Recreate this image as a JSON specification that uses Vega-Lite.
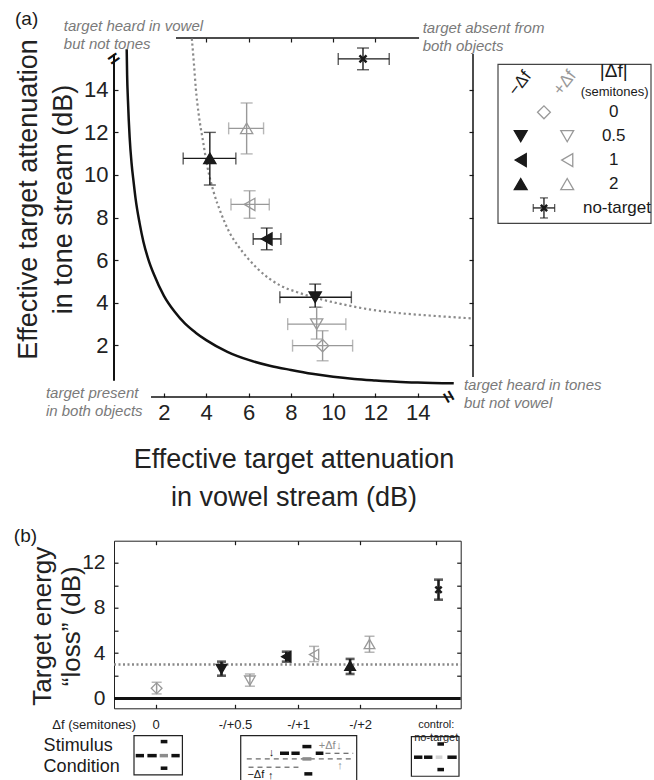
{
  "$schema": "https://vega.github.io/schema/vega-lite/v6.json",
  "padding": {"left": 13, "top": 10, "right": 5, "bottom": 0},
  "config": {
    "font": "Liberation Sans",
    "view": {"stroke": null},
    "axis": {"grid": false, "domain": false, "labelFlush": false, "labelOverlap": false, "labelColor": "#222222", "titleColor": "#222222", "tickColor": "#1a1a1a", "tickWidth": 1.2, "titleFontWeight": "normal", "labelFont": "Liberation Sans", "titleFont": "Liberation Sans"},
    "title": {"fontWeight": "normal", "font": "Liberation Sans", "color": "#1a1a1a"}
  },
  "datasets": {
    "one": [{"k": 1}],
    "top": [
      {"cond": "2", "sign": "neg", "x": 4.17, "xlo": 2.91, "xhi": 5.40, "y": 10.78, "ylo": 9.53, "yhi": 12.0},
      {"cond": "2", "sign": "pos", "x": 5.91, "xlo": 5.06, "xhi": 6.71, "y": 12.19, "ylo": 10.99, "yhi": 13.38},
      {"cond": "1", "sign": "pos", "x": 6.05, "xlo": 5.17, "xhi": 6.98, "y": 8.62, "ylo": 7.97, "yhi": 9.26},
      {"cond": "1", "sign": "neg", "x": 6.86, "xlo": 6.22, "xhi": 7.53, "y": 7.0, "ylo": 6.49, "yhi": 7.51},
      {"cond": "0.5", "sign": "neg", "x": 9.15, "xlo": 7.48, "xhi": 10.86, "y": 4.26, "ylo": 3.79, "yhi": 4.88},
      {"cond": "0.5", "sign": "pos", "x": 9.22, "xlo": 7.85, "xhi": 10.6, "y": 3.0, "ylo": 2.3, "yhi": 3.79},
      {"cond": "0", "sign": "zero", "x": 9.5, "xlo": 8.08, "xhi": 10.92, "y": 1.99, "ylo": 1.28, "yhi": 2.69},
      {"cond": "none", "sign": "none", "x": 11.41, "xlo": 10.24, "xhi": 12.65, "y": 15.45, "ylo": 14.94, "yhi": 15.96}
    ],
    "bottom": [
      {"cond": "0", "sign": "zero", "x": 1.23, "y": 0.9, "ylo": 0.4, "yhi": 1.43},
      {"cond": "0.5", "sign": "neg", "x": 3.1, "y": 2.6, "ylo": 2.01, "yhi": 3.25},
      {"cond": "0.5", "sign": "pos", "x": 3.92, "y": 1.57, "ylo": 1.08, "yhi": 2.16},
      {"cond": "1", "sign": "neg", "x": 4.97, "y": 3.69, "ylo": 3.25, "yhi": 4.13},
      {"cond": "1", "sign": "pos", "x": 5.77, "y": 3.87, "ylo": 3.25, "yhi": 4.6},
      {"cond": "2", "sign": "neg", "x": 6.81, "y": 2.9, "ylo": 2.16, "yhi": 3.49},
      {"cond": "2", "sign": "pos", "x": 7.37, "y": 4.81, "ylo": 4.08, "yhi": 5.49},
      {"cond": "none", "sign": "none", "x": 9.36, "y": 9.6, "ylo": 8.72, "yhi": 10.49}
    ],
    "solid": [
      {"x": 0.24, "y": 15.9}, {"x": 0.26, "y": 14.7}, {"x": 0.3, "y": 13.5}, {"x": 0.38, "y": 11.76}, {"x": 0.47, "y": 10.56},
      {"x": 0.57, "y": 9.64}, {"x": 0.66, "y": 8.89}, {"x": 0.85, "y": 7.74}, {"x": 1.03, "y": 6.87}, {"x": 1.27, "y": 6.02},
      {"x": 1.52, "y": 5.35}, {"x": 2.0, "y": 4.33}, {"x": 2.5, "y": 3.59}, {"x": 3.0, "y": 3.02}, {"x": 3.5, "y": 2.6},
      {"x": 4.0, "y": 2.25}, {"x": 5.0, "y": 1.7}, {"x": 6.0, "y": 1.32}, {"x": 7.0, "y": 1.05}, {"x": 8.0, "y": 0.85},
      {"x": 9.0, "y": 0.67}, {"x": 10.0, "y": 0.53}, {"x": 11.0, "y": 0.43}, {"x": 12.0, "y": 0.36}, {"x": 13.0, "y": 0.3},
      {"x": 14.0, "y": 0.26}, {"x": 15.7, "y": 0.22}
    ],
    "dotted": [
      {"x": 3.32, "y": 16.4}, {"x": 3.42, "y": 15.2}, {"x": 3.51, "y": 14.04}, {"x": 3.65, "y": 12.8}, {"x": 3.83, "y": 11.69},
      {"x": 4.06, "y": 10.36}, {"x": 4.35, "y": 9.2}, {"x": 4.7, "y": 8.2}, {"x": 5.1, "y": 7.3}, {"x": 5.5, "y": 6.68},
      {"x": 6.0, "y": 6.05}, {"x": 6.43, "y": 5.6}, {"x": 7.0, "y": 5.12}, {"x": 7.53, "y": 4.8}, {"x": 8.3, "y": 4.5},
      {"x": 9.11, "y": 4.25}, {"x": 10.5, "y": 3.92}, {"x": 11.79, "y": 3.68}, {"x": 13.0, "y": 3.53}, {"x": 14.6, "y": 3.4},
      {"x": 16.55, "y": 3.27}
    ],
    "legpts": [
      {"col": 1, "row": 2, "cond": "0.5", "sign": "neg"}, {"col": 2, "row": 2, "cond": "0.5", "sign": "pos"},
      {"col": 1, "row": 3, "cond": "1", "sign": "neg"}, {"col": 2, "row": 3, "cond": "1", "sign": "pos"},
      {"col": 1, "row": 4, "cond": "2", "sign": "neg"}, {"col": 2, "row": 4, "cond": "2", "sign": "pos"},
      {"col": 1.5, "row": 1, "cond": "0", "sign": "zero"}
    ],
    "legtext": [
      {"col": 3, "row": 1, "label": "0"}, {"col": 3, "row": 2, "label": "0.5"}, {"col": 3, "row": 3, "label": "1"},
      {"col": 3, "row": 4, "label": "2"}, {"col": 3.07, "row": 5, "label": "no-target"}
    ],
    "legbar": [{"col": 1.5, "row": 5, "rlo": 4.58, "rhi": 5.42, "clo": 1.27, "chi": 1.73}],
    "stimbox": [
      {"t": 0.577, "t2": 1.973, "f": -3.28, "f2": -6.75},
      {"t": 3.655, "t2": 7.0, "f": -3.28, "f2": -7.9},
      {"t": 8.578, "t2": 9.951, "f": -3.37, "f2": -6.87}
    ],
    "stimtone": [
      {"t": 0.626, "t2": 0.865, "f": -5.05, "part": "vowel"},
      {"t": 0.963, "t2": 1.232, "f": -5.05, "part": "vowel"},
      {"t": 1.656, "t2": 1.895, "f": -5.05, "part": "vowel"},
      {"t": 1.347, "t2": 1.54, "f": -3.81, "part": "vowel"},
      {"t": 1.347, "t2": 1.54, "f": -6.16, "part": "vowel"},
      {"t": 1.318, "t2": 1.558, "f": -5.05, "part": "target"},
      {"t": 8.653, "t2": 8.895, "f": -5.19, "part": "vowel"},
      {"t": 8.942, "t2": 9.184, "f": -5.19, "part": "vowel"},
      {"t": 9.616, "t2": 9.885, "f": -5.19, "part": "vowel"},
      {"t": 9.328, "t2": 9.518, "f": -4.02, "part": "vowel"},
      {"t": 9.328, "t2": 9.518, "f": -6.28, "part": "vowel"},
      {"t": 9.279, "t2": 9.472, "f": -5.19, "part": "absent"},
      {"t": 4.788, "t2": 5.048, "f": -4.84, "part": "vowel"},
      {"t": 5.117, "t2": 5.356, "f": -4.84, "part": "vowel"},
      {"t": 5.434, "t2": 5.694, "f": -4.25, "part": "vowel"},
      {"t": 5.818, "t2": 6.04, "f": -4.84, "part": "vowel"},
      {"t": 5.49, "t2": 5.72, "f": -6.66, "part": "vowel"},
      {"t": 5.434, "t2": 5.694, "f": -5.34, "part": "target"}
    ],
    "stimline": [
      {"t": 3.83, "t2": 6.9, "f": -5.34},
      {"t": 3.88, "t2": 5.32, "f": -6.07},
      {"t": 6.1, "t2": 6.9, "f": -4.84}
    ],
    "stimtext": [
      {"t": 6.15, "f": -4.22, "label": "+Δf", "part": "target"},
      {"t": 6.49, "f": -4.2, "label": "↓", "part": "target"},
      {"t": 6.52, "f": -6.0, "label": "↑", "part": "target"},
      {"t": 4.09, "f": -6.8, "label": "−Δf", "part": "vowel"},
      {"t": 4.54, "f": -4.79, "label": "↓", "part": "vowel"},
      {"t": 4.52, "f": -6.85, "label": "↑", "part": "vowel"}
    ]
  },
  "bounds": "flush",
  "spacing": 502.7,
  "vconcat": [
    {
      "bounds": "flush",
      "spacing": 24.7,
      "hconcat": [
        {
          "width": 359,
          "height": 359,
          "resolve": {"axis": {"x": "independent", "y": "independent"}},
          "layer": [
            {
              "data": {"name": "one"},
              "mark": {"type": "rule", "color": "#111111", "strokeWidth": 2},
              "encoding": {
                "x": {"datum": -0.36, "type": "quantitative", "scale": {"domain": [-0.36, 16.61], "nice": false, "zero": false},
                  "axis": {"orient": "bottom", "values": [2, 4, 6, 8, 10, 12, 14], "tickSize": -4, "labelPadding": 9, "labelFontSize": 22,
                    "title": ["Effective target attenuation", "in vowel stream (dB)"], "titleFontSize": 27, "titleLineHeight": 38, "titleY": 62, "titleBaseline": "middle"}},
                "y": {"datum": 0.34, "type": "quantitative", "scale": {"domain": [-0.42, 16.43], "nice": false, "zero": false},
                  "axis": {"orient": "left", "values": [2, 4, 6, 8, 10, 12, 14], "tickSize": -4, "labelPadding": 10, "labelFontSize": 22,
                    "title": ["Effective target attenuation", "in tone stream (dB)"], "titleFontSize": 27, "titleLineHeight": 35, "titleX": -86, "titleY": 161, "titleAngle": -90, "titleBaseline": "middle"}},
                "y2": {"datum": 15.68}
              }
            },
            {
              "data": {"name": "one"},
              "mark": {"type": "rule", "color": "#111111", "strokeWidth": 1.5},
              "encoding": {
                "x": {"datum": 1.39, "type": "quantitative", "scale": {"domain": [-0.36, 16.61], "nice": false, "zero": false},
                  "axis": {"orient": "top", "values": [4, 6, 8, 10, 12], "tickSize": -4, "labels": false, "title": null}},
                "x2": {"datum": 15.67},
                "y": {"datum": -0.42, "type": "quantitative", "scale": {"domain": [-0.42, 16.43], "nice": false, "zero": false},
                  "axis": {"orient": "right", "values": [2, 4, 6, 8, 10, 12, 14], "tickSize": -4, "labels": false, "title": null}}
              }
            },
            {
              "data": {"name": "one"},
              "mark": {"type": "rule", "color": "#111111", "strokeWidth": 1.5},
              "encoding": {
                "x": {"datum": 2.57, "type": "quantitative", "scale": {"domain": [-0.36, 16.61], "nice": false, "zero": false}, "axis": null},
                "x2": {"datum": 14.06},
                "y": {"datum": 16.43, "type": "quantitative", "scale": {"domain": [-0.42, 16.43], "nice": false, "zero": false}, "axis": null}
              }
            },
            {
              "data": {"name": "one"},
              "mark": {"type": "rule", "color": "#111111", "strokeWidth": 1.5},
              "encoding": {
                "x": {"datum": 16.61, "type": "quantitative", "scale": {"domain": [-0.36, 16.61], "nice": false, "zero": false}, "axis": null},
                "y": {"datum": 0.52, "type": "quantitative", "scale": {"domain": [-0.42, 16.43], "nice": false, "zero": false}, "axis": null},
                "y2": {"datum": 15.68}
              }
            },
            {
              "data": {"name": "solid"},
              "mark": {"type": "line", "color": "#111111", "strokeWidth": 2.5, "interpolate": "monotone"},
              "encoding": {
                "x": {"field": "x", "type": "quantitative", "scale": {"domain": [-0.36, 16.61], "nice": false, "zero": false}, "axis": null},
                "y": {"field": "y", "type": "quantitative", "scale": {"domain": [-0.42, 16.43], "nice": false, "zero": false}, "axis": null}
              }
            },
            {
              "data": {"name": "dotted"},
              "mark": {"type": "line", "color": "#8a8a8a", "strokeWidth": 2.2, "strokeDash": [2.2, 2.8], "interpolate": "monotone"},
              "encoding": {
                "x": {"field": "x", "type": "quantitative", "scale": {"domain": [-0.36, 16.61], "nice": false, "zero": false}, "axis": null},
                "y": {"field": "y", "type": "quantitative", "scale": {"domain": [-0.42, 16.43], "nice": false, "zero": false}, "axis": null}
              }
            },
            {
              "data": {"name": "top"},
              "mark": {"type": "errorbar", "ticks": true, "size": 12, "thickness": 1.4, "orient": "vertical"},
              "encoding": {
                "x": {"field": "x", "type": "quantitative", "scale": {"domain": [-0.36, 16.61], "nice": false, "zero": false}, "axis": null},
                "y": {"field": "ylo", "type": "quantitative", "scale": {"domain": [-0.42, 16.43], "nice": false, "zero": false}, "axis": null},
                "y2": {"field": "yhi"},
                "color": {"field": "sign", "type": "nominal", "scale": {"domain": ["neg", "pos", "zero", "none"], "range": ["#1a1a1a", "#999999", "#999999", "#1a1a1a"]}, "legend": null}
              }
            },
            {
              "data": {"name": "top"},
              "mark": {"type": "errorbar", "ticks": true, "size": 12, "thickness": 1.4, "orient": "horizontal"},
              "encoding": {
                "y": {"field": "y", "type": "quantitative", "scale": {"domain": [-0.42, 16.43], "nice": false, "zero": false}, "axis": null},
                "x": {"field": "xlo", "type": "quantitative", "scale": {"domain": [-0.36, 16.61], "nice": false, "zero": false}, "axis": null},
                "x2": {"field": "xhi"},
                "color": {"field": "sign", "type": "nominal", "scale": {"domain": ["neg", "pos", "zero", "none"], "range": ["#1a1a1a", "#999999", "#999999", "#1a1a1a"]}, "legend": null}
              }
            },
            {
              "data": {"name": "top"},
              "transform": [{"filter": "datum.sign !== 'none'"}],
              "mark": {"type": "point", "size": 150, "opacity": 1, "strokeWidth": 1.3},
              "encoding": {
                "x": {"field": "x", "type": "quantitative", "scale": {"domain": [-0.36, 16.61], "nice": false, "zero": false}, "axis": null},
                "y": {"field": "y", "type": "quantitative", "scale": {"domain": [-0.42, 16.43], "nice": false, "zero": false}, "axis": null},
                "shape": {"field": "cond", "type": "nominal", "scale": {"domain": ["0", "0.5", "1", "2"], "range": ["diamond", "triangle-down", "triangle-left", "triangle-up"]}, "legend": null},
                "fill": {"field": "sign", "type": "nominal", "scale": {"domain": ["neg", "pos", "zero"], "range": ["#1a1a1a", "transparent", "transparent"]}, "legend": null},
                "stroke": {"field": "sign", "type": "nominal", "scale": {"domain": ["neg", "pos", "zero"], "range": ["#1a1a1a", "#999999", "#999999"]}, "legend": null}
              }
            },
            {
              "data": {"name": "top"},
              "transform": [{"filter": "datum.sign === 'none'"}],
              "mark": {"type": "point", "shape": "M-1,-1L1,1M-1,1L1,-1", "size": 50, "opacity": 1, "strokeWidth": 2.5, "color": "#1a1a1a"},
              "encoding": {
                "x": {"field": "x", "type": "quantitative", "scale": {"domain": [-0.36, 16.61], "nice": false, "zero": false}, "axis": null},
                "y": {"field": "y", "type": "quantitative", "scale": {"domain": [-0.42, 16.43], "nice": false, "zero": false}, "axis": null}
              }
            },
            {
              "data": {"name": "one"},
              "mark": {"type": "text", "text": "(a)", "align": "left", "baseline": "middle", "fontSize": 19, "color": "#1a1a1a"},
              "encoding": {
                "x": {"datum": -5.04, "type": "quantitative", "scale": {"domain": [-0.36, 16.61], "nice": false, "zero": false}, "axis": null},
                "y": {"datum": 17.32, "type": "quantitative", "scale": {"domain": [-0.42, 16.43], "nice": false, "zero": false}, "axis": null}
              }
            },
            {
              "data": {"name": "one"},
              "mark": {"type": "text", "text": ["target heard in vowel", "but not tones"], "align": "left", "baseline": "middle", "fontSize": 15, "fontStyle": "italic", "color": "#7a7a7a", "lineHeight": 18},
              "encoding": {
                "x": {"datum": -2.73, "type": "quantitative", "scale": {"domain": [-0.36, 16.61], "nice": false, "zero": false}, "axis": null},
                "y": {"datum": 17.0, "type": "quantitative", "scale": {"domain": [-0.42, 16.43], "nice": false, "zero": false}, "axis": null}
              }
            },
            {
              "data": {"name": "one"},
              "mark": {"type": "text", "text": ["target absent from", "both objects"], "align": "left", "baseline": "middle", "fontSize": 15, "fontStyle": "italic", "color": "#7a7a7a", "lineHeight": 18},
              "encoding": {
                "x": {"datum": 14.23, "type": "quantitative", "scale": {"domain": [-0.36, 16.61], "nice": false, "zero": false}, "axis": null},
                "y": {"datum": 16.9, "type": "quantitative", "scale": {"domain": [-0.42, 16.43], "nice": false, "zero": false}, "axis": null}
              }
            },
            {
              "data": {"name": "one"},
              "mark": {"type": "text", "text": ["target present", "in both objects"], "align": "left", "baseline": "middle", "fontSize": 15, "fontStyle": "italic", "color": "#7a7a7a", "lineHeight": 18},
              "encoding": {
                "x": {"datum": -3.58, "type": "quantitative", "scale": {"domain": [-0.36, 16.61], "nice": false, "zero": false}, "axis": null},
                "y": {"datum": -0.23, "type": "quantitative", "scale": {"domain": [-0.42, 16.43], "nice": false, "zero": false}, "axis": null}
              }
            },
            {
              "data": {"name": "one"},
              "mark": {"type": "text", "text": ["target heard in tones", "but not vowel"], "align": "left", "baseline": "middle", "fontSize": 15, "fontStyle": "italic", "color": "#7a7a7a", "lineHeight": 18},
              "encoding": {
                "x": {"datum": 16.18, "type": "quantitative", "scale": {"domain": [-0.36, 16.61], "nice": false, "zero": false}, "axis": null},
                "y": {"datum": 0.12, "type": "quantitative", "scale": {"domain": [-0.42, 16.43], "nice": false, "zero": false}, "axis": null}
              }
            },
            {
              "data": {"name": "one"},
              "mark": {"type": "text", "text": "=", "angle": -35, "fontSize": 20, "fontWeight": "bold", "color": "#111111", "baseline": "middle"},
              "encoding": {
                "x": {"datum": -0.36, "type": "quantitative", "scale": {"domain": [-0.36, 16.61], "nice": false, "zero": false}, "axis": null},
                "y": {"datum": 15.45, "type": "quantitative", "scale": {"domain": [-0.42, 16.43], "nice": false, "zero": false}, "axis": null}
              }
            },
            {
              "data": {"name": "one"},
              "mark": {"type": "text", "text": "=", "angle": 60, "fontSize": 20, "fontWeight": "bold", "color": "#111111", "baseline": "middle"},
              "encoding": {
                "x": {"datum": 15.43, "type": "quantitative", "scale": {"domain": [-0.36, 16.61], "nice": false, "zero": false}, "axis": null},
                "y": {"datum": -0.42, "type": "quantitative", "scale": {"domain": [-0.42, 16.43], "nice": false, "zero": false}, "axis": null}
              }
            }
          ]
        },
        {
          "bounds": "flush",
          "spacing": 25,
          "vconcat": [
            {"width": 153, "height": 1, "data": {"name": "one"}, "mark": {"type": "text", "text": " "}, "encoding": {}},
            {
              "width": 153,
              "height": 159,
              "view": {"stroke": "#444444", "strokeWidth": 1.2},
              "layer": [
                {
                  "data": {"name": "legpts"},
                  "mark": {"type": "point", "size": 165, "opacity": 1, "strokeWidth": 1.3},
                  "encoding": {
                    "x": {"field": "col", "type": "quantitative", "scale": {"domain": [0.505, 3.796], "nice": false, "zero": false}, "axis": null},
                    "y": {"field": "row", "type": "quantitative", "scale": {"domain": [-1.02, 5.63], "nice": false, "zero": false, "reverse": true}, "axis": null},
                    "shape": {"field": "cond", "type": "nominal", "scale": {"domain": ["0", "0.5", "1", "2"], "range": ["diamond", "triangle-down", "triangle-left", "triangle-up"]}, "legend": null},
                    "fill": {"field": "sign", "type": "nominal", "scale": {"domain": ["neg", "pos", "zero"], "range": ["#1a1a1a", "transparent", "transparent"]}, "legend": null},
                    "stroke": {"field": "sign", "type": "nominal", "scale": {"domain": ["neg", "pos", "zero"], "range": ["#1a1a1a", "#999999", "#999999"]}, "legend": null}
                  }
                },
                {
                  "data": {"name": "legtext"},
                  "mark": {"type": "text", "fontSize": 17, "color": "#1a1a1a", "baseline": "middle"},
                  "encoding": {
                    "x": {"field": "col", "type": "quantitative", "scale": {"domain": [0.505, 3.796], "nice": false, "zero": false}, "axis": null},
                    "y": {"field": "row", "type": "quantitative", "scale": {"domain": [-1.02, 5.63], "nice": false, "zero": false, "reverse": true}, "axis": null},
                    "text": {"field": "label"}
                  }
                },
                {
                  "data": {"name": "legbar"},
                  "mark": {"type": "errorbar", "ticks": true, "size": 8, "thickness": 1.3, "orient": "vertical", "color": "#1a1a1a"},
                  "encoding": {
                    "x": {"field": "col", "type": "quantitative", "scale": {"domain": [0.505, 3.796], "nice": false, "zero": false}, "axis": null},
                    "y": {"field": "rlo", "type": "quantitative", "scale": {"domain": [-1.02, 5.63], "nice": false, "zero": false, "reverse": true}, "axis": null},
                    "y2": {"field": "rhi"}
                  }
                },
                {
                  "data": {"name": "legbar"},
                  "mark": {"type": "errorbar", "ticks": true, "size": 8, "thickness": 1.3, "orient": "horizontal", "color": "#1a1a1a"},
                  "encoding": {
                    "y": {"field": "row", "type": "quantitative", "scale": {"domain": [-1.02, 5.63], "nice": false, "zero": false, "reverse": true}, "axis": null},
                    "x": {"field": "clo", "type": "quantitative", "scale": {"domain": [0.505, 3.796], "nice": false, "zero": false}, "axis": null},
                    "x2": {"field": "chi"}
                  }
                },
                {
                  "data": {"name": "legbar"},
                  "mark": {"type": "point", "shape": "M-1,-1L1,1M-1,1L1,-1", "size": 40, "opacity": 1, "strokeWidth": 2.5, "color": "#1a1a1a"},
                  "encoding": {
                    "x": {"field": "col", "type": "quantitative", "scale": {"domain": [0.505, 3.796], "nice": false, "zero": false}, "axis": null},
                    "y": {"field": "row", "type": "quantitative", "scale": {"domain": [-1.02, 5.63], "nice": false, "zero": false, "reverse": true}, "axis": null}
                  }
                },
                {
                  "data": {"name": "one"},
                  "mark": {"type": "text", "text": "|Δf|", "fontSize": 19, "color": "#1a1a1a", "baseline": "middle", "dy": -17},
                  "encoding": {
                    "x": {"datum": 3.0, "type": "quantitative", "scale": {"domain": [0.505, 3.796], "nice": false, "zero": false}, "axis": null},
                    "y": {"datum": 0, "type": "quantitative", "scale": {"domain": [-1.02, 5.63], "nice": false, "zero": false, "reverse": true}, "axis": null}
                  }
                },
                {
                  "data": {"name": "one"},
                  "mark": {"type": "text", "text": "(semitones)", "fontSize": 13, "color": "#1a1a1a", "baseline": "middle", "dy": 4},
                  "encoding": {
                    "x": {"datum": 3.02, "type": "quantitative", "scale": {"domain": [0.505, 3.796], "nice": false, "zero": false}, "axis": null},
                    "y": {"datum": 0, "type": "quantitative", "scale": {"domain": [-1.02, 5.63], "nice": false, "zero": false, "reverse": true}, "axis": null}
                  }
                },
                {
                  "data": {"name": "one"},
                  "mark": {"type": "text", "text": "−Δf", "fontSize": 17, "angle": -52, "color": "#1a1a1a", "baseline": "middle", "dy": -8},
                  "encoding": {
                    "x": {"datum": 1.12, "type": "quantitative", "scale": {"domain": [0.505, 3.796], "nice": false, "zero": false}, "axis": null},
                    "y": {"datum": 0, "type": "quantitative", "scale": {"domain": [-1.02, 5.63], "nice": false, "zero": false, "reverse": true}, "axis": null}
                  }
                },
                {
                  "data": {"name": "one"},
                  "mark": {"type": "text", "text": "+Δf", "fontSize": 17, "angle": -52, "color": "#999999", "baseline": "middle", "dy": -9},
                  "encoding": {
                    "x": {"datum": 2.1, "type": "quantitative", "scale": {"domain": [0.505, 3.796], "nice": false, "zero": false}, "axis": null},
                    "y": {"datum": 0, "type": "quantitative", "scale": {"domain": [-1.02, 5.63], "nice": false, "zero": false, "reverse": true}, "axis": null}
                  }
                }
              ]
            }
          ]
        }
      ]
    },
    {
      "width": 346.7,
      "height": 167.6,
      "view": {"stroke": "#222222", "strokeWidth": 1},
      "resolve": {"axis": {"x": "independent", "y": "independent"}},
      "layer": [
        {
          "data": {"name": "one"},
          "mark": {"type": "rule", "color": "#8a8a8a", "strokeWidth": 2.5, "strokeDash": [2, 2.5]},
          "encoding": {
            "x": {"datum": 0, "type": "quantitative", "scale": {"domain": [0, 10], "nice": false, "zero": false},
              "axis": {"orient": "top", "values": [1.2, 3.49, 5.31, 7.1, 9.28], "tickSize": -4, "labels": false, "title": null}},
            "x2": {"datum": 10},
            "y": {"datum": 3, "type": "quantitative", "scale": {"domain": [-0.87, 13.93], "nice": false, "zero": false},
              "axis": {"orient": "right", "values": [2, 4, 6, 8, 10, 12], "tickSize": -4, "labels": false, "title": null}}
          }
        },
        {
          "data": {"name": "one"},
          "mark": {"type": "rule", "color": "#111111", "strokeWidth": 3},
          "encoding": {
            "x": {"datum": 0, "type": "quantitative", "scale": {"domain": [0, 10], "nice": false, "zero": false}, "axis": null},
            "x2": {"datum": 10},
            "y": {"datum": 0, "type": "quantitative", "scale": {"domain": [-0.87, 13.93], "nice": false, "zero": false}, "axis": null}
          }
        },
        {
          "data": {"name": "bottom"},
          "transform": [{"filter": "datum.sign === 'neg' || datum.sign === 'none'"}],
          "mark": {"type": "errorbar", "ticks": true, "size": 9, "thickness": 2.6, "orient": "vertical", "color": "#1a1a1a"},
          "encoding": {
            "x": {"field": "x", "type": "quantitative", "scale": {"domain": [0, 10], "nice": false, "zero": false}, "axis": null},
            "y": {"field": "ylo", "type": "quantitative", "scale": {"domain": [-0.87, 13.93], "nice": false, "zero": false}, "axis": null},
            "y2": {"field": "yhi"}
          }
        },
        {
          "data": {"name": "bottom"},
          "transform": [{"filter": "datum.sign === 'pos' || datum.sign === 'zero'"}],
          "mark": {"type": "errorbar", "ticks": true, "size": 10, "thickness": 1.5, "orient": "vertical", "color": "#999999"},
          "encoding": {
            "x": {"field": "x", "type": "quantitative", "scale": {"domain": [0, 10], "nice": false, "zero": false}, "axis": null},
            "y": {"field": "ylo", "type": "quantitative", "scale": {"domain": [-0.87, 13.93], "nice": false, "zero": false}, "axis": null},
            "y2": {"field": "yhi"}
          }
        },
        {
          "data": {"name": "bottom"},
          "transform": [{"filter": "datum.sign !== 'none'"}],
          "mark": {"type": "point", "size": 115, "opacity": 1, "strokeWidth": 1.3},
          "encoding": {
            "x": {"field": "x", "type": "quantitative", "scale": {"domain": [0, 10], "nice": false, "zero": false},
              "axis": {"orient": "bottom", "values": [1.2, 3.49, 5.31, 7.1, 9.28],
                "labelExpr": "datum.value < 2 ? '0' : datum.value < 4 ? '-/+0.5' : datum.value < 6 ? '-/+1' : datum.value < 8 ? '-/+2' : ['control:', 'no-target']",
                "labelFontSize": {"condition": {"test": "datum.value > 8", "value": 11}, "value": 13},
                "labelBaseline": "middle", "labelPadding": 20, "labelLineHeight": 13, "tickSize": -4,
                "title": "Δf (semitones)", "titleFontSize": 13, "titleX": 21.7, "titleY": 16, "titleAlign": "right", "titleBaseline": "middle"}},
            "y": {"field": "y", "type": "quantitative", "scale": {"domain": [-0.87, 13.93], "nice": false, "zero": false},
              "axis": {"orient": "left", "values": [0, 2, 4, 6, 8, 10, 12], "labelExpr": "datum.value % 4 === 0 ? datum.label : ''",
                "labelFontSize": 21, "labelPadding": 13, "tickSize": -4,
                "title": ["Target energy", "“loss” (dB)"], "titleFontSize": 26, "titleLineHeight": 29, "titleX": -72, "titleY": 85, "titleAngle": -90, "titleBaseline": "middle"}},
            "shape": {"field": "cond", "type": "nominal", "scale": {"domain": ["0", "0.5", "1", "2"], "range": ["diamond", "triangle-down", "triangle-left", "triangle-up"]}, "legend": null},
            "fill": {"field": "sign", "type": "nominal", "scale": {"domain": ["neg", "pos", "zero"], "range": ["#1a1a1a", "transparent", "transparent"]}, "legend": null},
            "stroke": {"field": "sign", "type": "nominal", "scale": {"domain": ["neg", "pos", "zero"], "range": ["#1a1a1a", "#999999", "#999999"]}, "legend": null}
          }
        },
        {
          "data": {"name": "bottom"},
          "transform": [{"filter": "datum.sign === 'none'"}],
          "mark": {"type": "point", "shape": "M-1,-1L1,1M-1,1L1,-1", "size": 40, "opacity": 1, "strokeWidth": 2.5, "color": "#1a1a1a"},
          "encoding": {
            "x": {"field": "x", "type": "quantitative", "scale": {"domain": [0, 10], "nice": false, "zero": false}, "axis": null},
            "y": {"field": "y", "type": "quantitative", "scale": {"domain": [-0.87, 13.93], "nice": false, "zero": false}, "axis": null}
          }
        },
        {
          "data": {"name": "stimbox"},
          "mark": {"type": "rect", "fill": null, "stroke": "#222222", "strokeWidth": 1.2},
          "encoding": {
            "x": {"field": "t", "type": "quantitative", "scale": {"domain": [0, 10], "nice": false, "zero": false}, "axis": null},
            "x2": {"field": "t2"},
            "y": {"field": "f", "type": "quantitative", "scale": {"domain": [-0.87, 13.93], "nice": false, "zero": false}, "axis": null},
            "y2": {"field": "f2"}
          }
        },
        {
          "data": {"name": "stimline"},
          "mark": {"type": "rule", "color": "#444444", "strokeWidth": 1, "strokeDash": [5, 4]},
          "encoding": {
            "x": {"field": "t", "type": "quantitative", "scale": {"domain": [0, 10], "nice": false, "zero": false}, "axis": null},
            "x2": {"field": "t2"},
            "y": {"field": "f", "type": "quantitative", "scale": {"domain": [-0.87, 13.93], "nice": false, "zero": false}, "axis": null}
          }
        },
        {
          "data": {"name": "stimtone"},
          "transform": [{"filter": "datum.part === 'vowel'"}],
          "mark": {"type": "rule", "color": "#111111", "strokeWidth": 3.5, "strokeCap": "butt"},
          "encoding": {
            "x": {"field": "t", "type": "quantitative", "scale": {"domain": [0, 10], "nice": false, "zero": false}, "axis": null},
            "x2": {"field": "t2"},
            "y": {"field": "f", "type": "quantitative", "scale": {"domain": [-0.87, 13.93], "nice": false, "zero": false}, "axis": null}
          }
        },
        {
          "data": {"name": "stimtone"},
          "transform": [{"filter": "datum.part === 'target'"}],
          "mark": {"type": "rule", "color": "#8c8c8c", "strokeWidth": 3.5, "strokeCap": "butt"},
          "encoding": {
            "x": {"field": "t", "type": "quantitative", "scale": {"domain": [0, 10], "nice": false, "zero": false}, "axis": null},
            "x2": {"field": "t2"},
            "y": {"field": "f", "type": "quantitative", "scale": {"domain": [-0.87, 13.93], "nice": false, "zero": false}, "axis": null}
          }
        },
        {
          "data": {"name": "stimtone"},
          "transform": [{"filter": "datum.part === 'absent'"}],
          "mark": {"type": "rule", "color": "#d4d4d4", "strokeWidth": 3.5, "strokeCap": "butt"},
          "encoding": {
            "x": {"field": "t", "type": "quantitative", "scale": {"domain": [0, 10], "nice": false, "zero": false}, "axis": null},
            "x2": {"field": "t2"},
            "y": {"field": "f", "type": "quantitative", "scale": {"domain": [-0.87, 13.93], "nice": false, "zero": false}, "axis": null}
          }
        },
        {
          "data": {"name": "stimtext"},
          "transform": [{"filter": "datum.part === 'target'"}],
          "mark": {"type": "text", "fontSize": 11, "color": "#8c8c8c", "baseline": "middle"},
          "encoding": {
            "x": {"field": "t", "type": "quantitative", "scale": {"domain": [0, 10], "nice": false, "zero": false}, "axis": null},
            "y": {"field": "f", "type": "quantitative", "scale": {"domain": [-0.87, 13.93], "nice": false, "zero": false}, "axis": null},
            "text": {"field": "label"}
          }
        },
        {
          "data": {"name": "stimtext"},
          "transform": [{"filter": "datum.part === 'vowel'"}],
          "mark": {"type": "text", "fontSize": 11, "color": "#111111", "baseline": "middle"},
          "encoding": {
            "x": {"field": "t", "type": "quantitative", "scale": {"domain": [0, 10], "nice": false, "zero": false}, "axis": null},
            "y": {"field": "f", "type": "quantitative", "scale": {"domain": [-0.87, 13.93], "nice": false, "zero": false}, "axis": null},
            "text": {"field": "label"}
          }
        },
        {
          "data": {"name": "one"},
          "mark": {"type": "text", "text": "(b)", "align": "left", "baseline": "middle", "fontSize": 19, "color": "#1a1a1a"},
          "encoding": {
            "x": {"datum": -2.89, "type": "quantitative", "scale": {"domain": [0, 10], "nice": false, "zero": false}, "axis": null},
            "y": {"datum": 14.34, "type": "quantitative", "scale": {"domain": [-0.87, 13.93], "nice": false, "zero": false}, "axis": null}
          }
        },
        {
          "data": {"name": "one"},
          "mark": {"type": "text", "text": ["Stimulus", "Condition"], "align": "left", "baseline": "middle", "fontSize": 18, "lineHeight": 21, "color": "#1a1a1a"},
          "encoding": {
            "x": {"datum": -2.03, "type": "quantitative", "scale": {"domain": [0, 10], "nice": false, "zero": false}, "axis": null},
            "y": {"datum": -4.19, "type": "quantitative", "scale": {"domain": [-0.87, 13.93], "nice": false, "zero": false}, "axis": null}
          }
        }
      ]
    }
  ]
}
